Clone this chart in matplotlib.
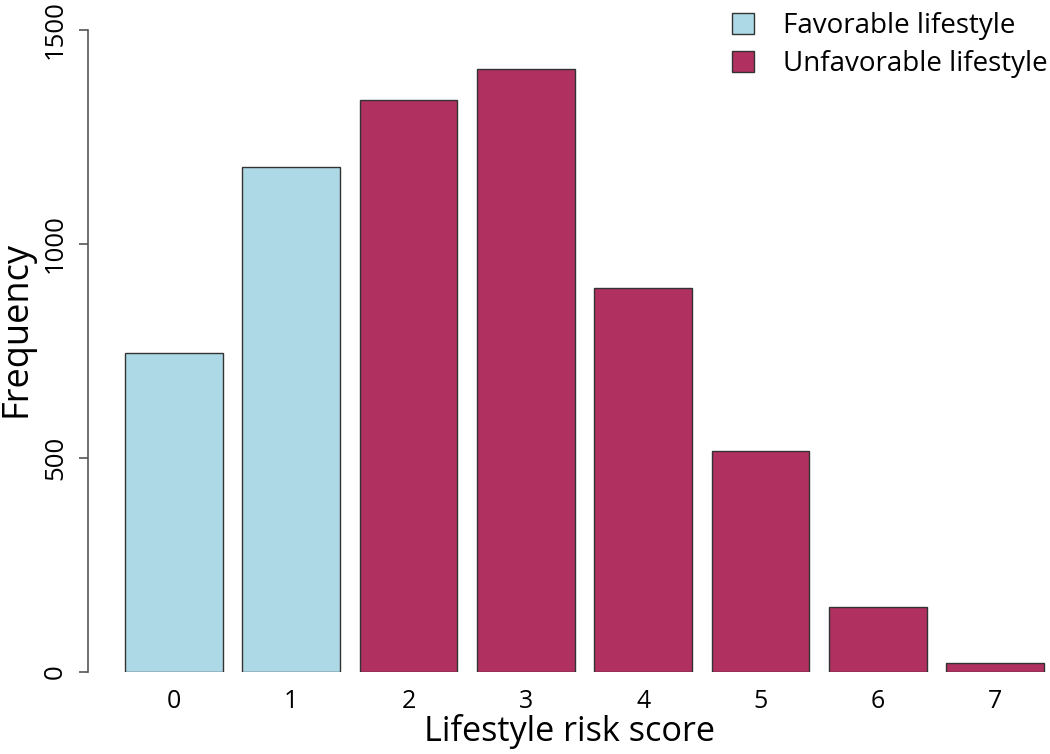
import matplotlib
matplotlib.use("Agg")
import matplotlib.pyplot as plt
from matplotlib.patches import Patch

scores = ["0", "1", "2", "3", "4", "5", "6", "7"]
frequency = [745, 1180, 1336, 1409, 897, 516, 153, 22]
favorable = [True, True, False, False, False, False, False, False]
yticks = [0, 500, 1000, 1500]
col_fav = "#ADD8E6"
col_unfav = "#B03060"

plt.rcParams['font.family'] = ['Open Sans', 'DejaVu Sans']

W, H = 1050, 754
fig = plt.figure(figsize=(W / 100, H / 100), dpi=100)
left_px, right_px, bottom_px = 88, 1050, 672
unit = 97.77
x0_px = 105.4  # pixel of data x=0
ymax = 1560
ppu_y = 642 / 1500
top_px = bottom_px - ymax * ppu_y
ax = fig.add_axes([left_px / W, (H - bottom_px) / H,
                   (right_px - left_px) / W, (bottom_px - top_px) / H])
ax.set_xlim((left_px - x0_px) / unit, (right_px - x0_px) / unit)
ax.set_ylim(0, ymax)

xs = [0.2 + 1.2 * i + 0.5 for i in range(len(scores))]
colors = [col_fav if f else col_unfav for f in favorable]
ax.bar(xs, frequency, width=1.0, color=colors, edgecolor="#333333", linewidth=1.0)

for s in ["top", "right", "bottom"]:
    ax.spines[s].set_visible(False)
ax.spines["left"].set_bounds(0, 1500)
ax.spines["left"].set_color("#555555")
ax.spines["left"].set_linewidth(1.2)
ax.set_yticks(yticks)
ax.set_yticklabels([str(v) for v in yticks], rotation=90, va="center")
ax.tick_params(axis="y", length=6.5, width=1.2, color="#555555", pad=8, labelsize=18.5)
ax.set_xticks(xs)
ax.set_xticklabels(scores)
ax.tick_params(axis="x", length=0, pad=12, labelsize=18)
ax.set_xlabel("Lifestyle risk score", fontsize=24.7, labelpad=0)
fig.text(-2 / W, 1 - 329 / H, "Frequency", rotation=90, ha="left", va="center",
         fontsize=26)

handles = [Patch(facecolor=col_fav, edgecolor="#333333", linewidth=1.0),
           Patch(facecolor=col_unfav, edgecolor="#333333", linewidth=1.0)]
ax.legend(handles, ["Favorable lifestyle", "Unfavorable lifestyle"],
          loc="upper left", bbox_to_anchor=(732 / W, 1 - 12 / H),
          bbox_transform=fig.transFigure, frameon=False, fontsize=20,
          borderaxespad=0, borderpad=0, handlelength=0.8, handleheight=0.8,
          handletextpad=1.05, labelspacing=0.37)

fig.savefig("out.png", dpi=100)
